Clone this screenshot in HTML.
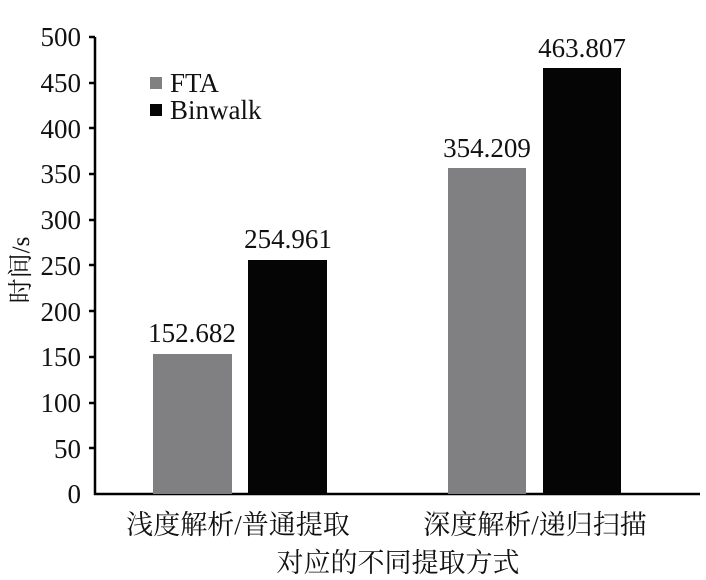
<!DOCTYPE html>
<html><head><meta charset="utf-8"><style>
html,body{margin:0;padding:0;background:#fff;}
svg{display:block;}
text{font-family:"Liberation Serif","Noto Serif CJK SC",serif;fill:#111;}
</style></head><body>
<svg width="706" height="580" viewBox="0 0 706 580" xmlns="http://www.w3.org/2000/svg">
<g font-size="27" text-anchor="end">
<text x="81" y="46">500</text>
<text x="81" y="92">450</text>
<text x="81" y="138">400</text>
<text x="81" y="183">350</text>
<text x="81" y="229">300</text>
<text x="81" y="275">250</text>
<text x="81" y="321">200</text>
<text x="81" y="366">150</text>
<text x="81" y="412">100</text>
<text x="81" y="458">50</text>
<text x="81" y="503">0</text>
</g>
<g stroke="#000" stroke-width="2.5">
<line x1="95" y1="37" x2="95" y2="495"/>
<line x1="94" y1="494" x2="700" y2="494"/>
<line x1="89" y1="37" x2="95" y2="37"/>
<line x1="89" y1="83" x2="95" y2="83"/>
<line x1="89" y1="128" x2="95" y2="128"/>
<line x1="89" y1="174" x2="95" y2="174"/>
<line x1="89" y1="220" x2="95" y2="220"/>
<line x1="89" y1="265" x2="95" y2="265"/>
<line x1="89" y1="311" x2="95" y2="311"/>
<line x1="89" y1="357" x2="95" y2="357"/>
<line x1="89" y1="403" x2="95" y2="403"/>
<line x1="89" y1="448" x2="95" y2="448"/>
</g>
<rect x="153" y="354" width="79" height="140" fill="#808083"/>
<rect x="248" y="260" width="79" height="234" fill="#050505"/>
<rect x="448" y="168" width="78" height="326" fill="#808083"/>
<rect x="543" y="68" width="78" height="426" fill="#050505"/>
<g font-size="27" text-anchor="middle">
<text x="192" y="342">152.682</text>
<text x="288" y="248">254.961</text>
<text x="487" y="157">354.209</text>
<text x="582" y="57">463.807</text>
</g>
<rect x="150" y="77" width="12" height="12" fill="#808083"/>
<rect x="150" y="104" width="12" height="12" fill="#050505"/>
<text x="170" y="92" font-size="27">FTA</text>
<text x="170" y="119" font-size="27">Binwalk</text>
<g font-size="27" text-anchor="middle">
<text x="238" y="534">浅度解析/普通提取</text>
<text x="535" y="534">深度解析/递归扫描</text>
</g>
<text x="398" y="572" font-size="27" text-anchor="middle">对应的不同提取方式</text>
<text transform="translate(29,270) rotate(-90)" font-size="25" text-anchor="middle">时间/s</text>
</svg>
</body></html>
